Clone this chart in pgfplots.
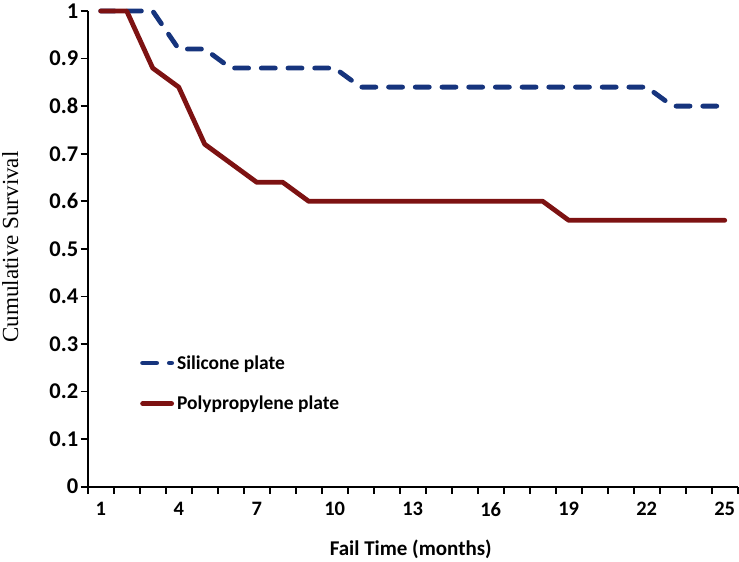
\documentclass[border=0pt]{standalone}
\usepackage{pgfplots}
\pgfplotsset{compat=1.18}
\usepackage{fontspec}
\setmainfont{Carlito}
\newfontfamily\timesf{Liberation Serif}
\definecolor{sblue}{RGB}{22,52,125}
\definecolor{pred}{RGB}{125,18,18}
\begin{document}
\begin{tikzpicture}[x=1pt,y=1pt]
\useasboundingbox (0,0) rectangle (739,562);
\begin{axis}[
  at={(87.7pt,75.3pt)}, anchor=south west,
  scale only axis, width=650pt, height=475.7pt,
  xmin=0.5, xmax=25.5, ymin=0, ymax=1,
  axis lines*=left,
  axis line style={line width=2pt, black},
  xtick={1,4,7,10,13,16,19,22,25},
  xticklabels={1,4,7,10,13,16,19,22,25},
  minor xtick={0.5,1.5,...,25.5},
  ytick={0,0.1,0.2,0.3,0.4,0.5,0.6,0.7,0.8,0.9,1},
  yticklabels={0,0.1,0.2,0.3,0.4,0.5,0.6,0.7,0.8,0.9,1},
  tick align=outside,
  major x tick style={draw=none},
  tick style={line width=1.8pt, black},
  major tick length=7pt, minor tick length=7pt,
  xticklabel style={font=\bfseries\fontsize{20.5}{20.5}\selectfont, yshift=-5pt},
  yticklabel style={font=\bfseries\fontsize{22.5}{22.5}\selectfont, xshift=1pt},
  xlabel={Fail Time (months)},
  xlabel style={font=\bfseries\fontsize{21}{21}\selectfont, at={(axis description cs:0.497,-0.131)}, anchor=center},
  ylabel={Cumulative Survival},
  ylabel style={font=\timesf\fontsize{23}{23}\selectfont, at={(axis description cs:-0.1190,0.504)}, anchor=center},
  clip=false,
  legend image code/.code={\draw[#1] (0pt,0pt) -- (29pt,0pt);},
  legend style={draw=none, fill=none, inner sep=0pt,
    at={(axis description cs:0.0805,0.2173)}, anchor=west,
    font=\bfseries\fontsize{19.5}{19.5}\selectfont,
    nodes={inner sep=0pt},
    /tikz/row sep=25.5pt,
    /tikz/every odd column/.append style={column sep=3pt}},
  legend cell align=left,
]
\addplot[sblue, line width=4.8pt, line cap=round, dash pattern=on 14pt off 12.7pt] coordinates {
(1,1) (2,1) (3,1) (4,0.92) (5,0.92) (6,0.88) (7,0.88) (8,0.88) (9,0.88) (10,0.88)
(11,0.84) (12,0.84) (13,0.84) (14,0.84) (15,0.84) (16,0.84) (17,0.84) (18,0.84)
(19,0.84) (20,0.84) (21,0.84) (22,0.84) (23,0.80) (24,0.80) (25,0.80)};
\addlegendentry{Silicone plate}
\addplot[pred, line width=4.8pt, line cap=round, line join=round] coordinates {
(1,1) (2,1) (3,0.88) (4,0.84) (5,0.72) (6,0.68) (7,0.64) (8,0.64) (9,0.60) (10,0.60)
(11,0.60) (12,0.60) (13,0.60) (14,0.60) (15,0.60) (16,0.60) (17,0.60) (18,0.60)
(19,0.56) (20,0.56) (21,0.56) (22,0.56) (23,0.56) (24,0.56) (25,0.56)};
\addlegendentry{Polypropylene plate}
\end{axis}
\end{tikzpicture}
\end{document}
